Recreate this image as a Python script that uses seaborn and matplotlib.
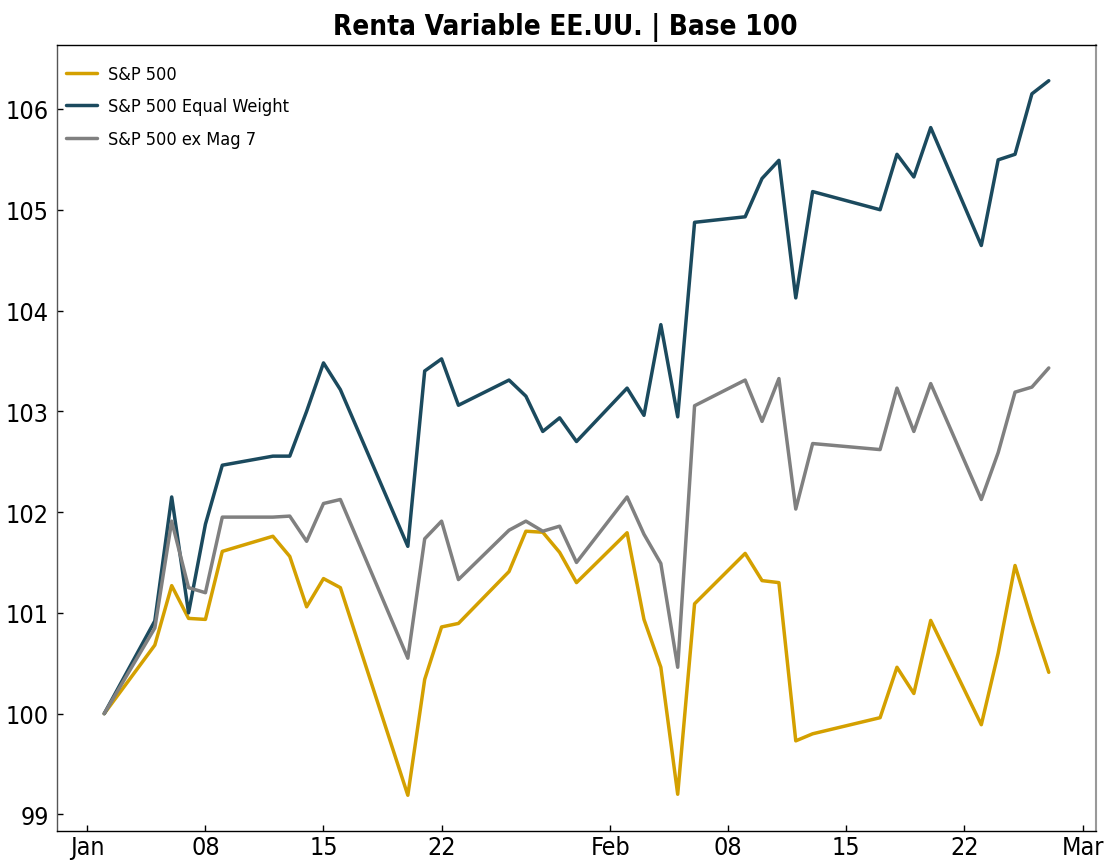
import pandas as pd
import matplotlib.pyplot as plt
import matplotlib.dates as mdates
from matplotlib.ticker import MultipleLocator
import seaborn as sns

# trading days, Jan-Feb 2026
dates = ['2026-01-02', '2026-01-05', '2026-01-06', '2026-01-07', '2026-01-08', '2026-01-09',
         '2026-01-12', '2026-01-13', '2026-01-14', '2026-01-15', '2026-01-16',
         '2026-01-20', '2026-01-21', '2026-01-22', '2026-01-23',
         '2026-01-26', '2026-01-27', '2026-01-28', '2026-01-29', '2026-01-30',
         '2026-02-02', '2026-02-03', '2026-02-04', '2026-02-05', '2026-02-06',
         '2026-02-09', '2026-02-10', '2026-02-11', '2026-02-12', '2026-02-13',
         '2026-02-17', '2026-02-18', '2026-02-19', '2026-02-20',
         '2026-02-23', '2026-02-24', '2026-02-25', '2026-02-26', '2026-02-27']

sp500 = [100, 100.68, 101.27, 100.945, 100.935, 101.61, 101.76, 101.56, 101.06, 101.34,
         101.25, 99.19, 100.34, 100.86, 100.895, 101.41, 101.81, 101.80, 101.60, 101.30,
         101.795, 100.935, 100.46, 99.20, 101.09, 101.59, 101.32, 101.30, 99.73, 99.80,
         99.96, 100.46, 100.20, 100.925, 99.89, 100.60, 101.47, 100.92, 100.41]

sp500_equal_weight = [100, 100.92, 102.15, 101.0, 101.88, 102.465, 102.555, 102.555, 103.0, 103.48,
                      103.215, 101.66, 103.40, 103.52, 103.06, 103.31, 103.15, 102.80, 102.935, 102.70,
                      103.23, 102.96, 103.86, 102.945, 104.875, 104.93, 105.31, 105.49, 104.125, 105.18,
                      105.0, 105.55, 105.325, 105.815, 104.645, 105.495, 105.55, 106.15, 106.28]

sp500_ex_mag7 = [100, 100.85, 101.91, 101.25, 101.20, 101.95, 101.95, 101.96, 101.71, 102.085,
                 102.125, 100.55, 101.735, 101.91, 101.33, 101.82, 101.91, 101.81, 101.86, 101.50,
                 102.15, 101.78, 101.49, 100.46, 103.055, 103.31, 102.90, 103.325, 102.03, 102.68,
                 102.62, 103.23, 102.80, 103.275, 102.125, 102.59, 103.19, 103.24, 103.43]

series_names = ['S&P 500', 'S&P 500 Equal Weight', 'S&P 500 ex Mag 7']
colors = ['#D4A000', '#1B4A5E', '#808080']

sns.set_style('ticks')
plt.rcParams['font.family'] = ['DejaVu Sans']
plt.rcParams['font.stretch'] = 'condensed'
plt.rcParams['text.color'] = 'black'

df = pd.DataFrame({
    'Fecha': pd.to_datetime(dates),
    'S&P 500': sp500,
    'S&P 500 Equal Weight': sp500_equal_weight,
    'S&P 500 ex Mag 7': sp500_ex_mag7,
})
long_df = df.melt(id_vars='Fecha', var_name='Serie', value_name='Valor')

fig = plt.figure(figsize=(11.07, 8.62), dpi=100)
ax = fig.add_axes([57 / 1107, 1 - 832 / 862, (1096 - 57) / 1107, (832 - 46) / 862])

sns.lineplot(data=long_df, x='Fecha', y='Valor', hue='Serie', hue_order=series_names,
             palette=colors, linewidth=2.5, ax=ax)

ax.set_title('Renta Variable EE.UU. | Base 100', fontsize=20, fontweight='bold', pad=8,
             color='black', x=0.489)
ax.set_xlabel('')
ax.set_ylabel('')

locator = mdates.DayLocator(bymonthday=[1, 8, 15, 22])
ax.xaxis.set_major_locator(locator)
ax.xaxis.set_major_formatter(mdates.ConciseDateFormatter(locator))
ax.yaxis.set_major_locator(MultipleLocator(1))
ax.tick_params(direction='in', length=4, width=1, labelsize=18, colors='black')
ax.tick_params(axis='x', pad=3)
ax.tick_params(axis='y', pad=6)

for side in ['top', 'bottom']:
    ax.spines[side].set_color('black')
    ax.spines[side].set_linewidth(1)
ax.spines['left'].set_color('#555555')
ax.spines['left'].set_linewidth(1)
ax.spines['right'].set_color('#999999')
ax.spines['right'].set_linewidth(1.5)

handles, labels = ax.get_legend_handles_labels()
leg = ax.legend(handles, labels, frameon=False, loc='upper left',
                bbox_to_anchor=(0.0087, 0.9746), fontsize=13,
                handlelength=1.7, handletextpad=0.6, borderaxespad=0, borderpad=0,
                labelspacing=0.8)
for text in leg.get_texts():
    text.set_color('black')

fig.savefig('out.png', dpi=100)
